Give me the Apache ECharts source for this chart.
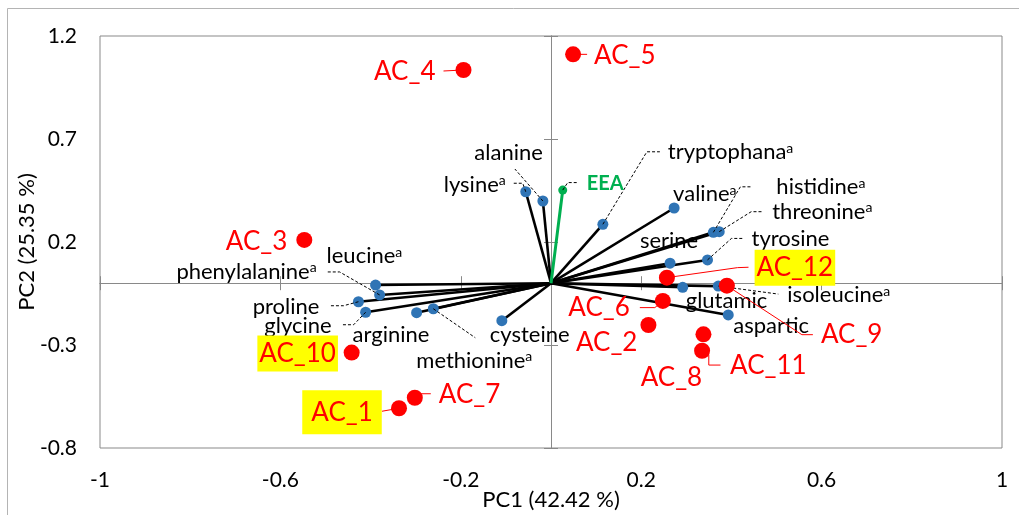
<!DOCTYPE html>
<html>
<head>
<meta charset="utf-8">
<script src="https://cdn.jsdelivr.net/npm/echarts@6/dist/echarts.min.js"></script>
<style>
  html, body { margin: 0; padding: 0; background: #ffffff; }
  #chart { width: 1019px; height: 515px; }
</style>
</head>
<body>
<div id="chart"></div>
<script>
// ---- Data -----------------------------------------------------------------
// Amino acid loadings on PC1 / PC2 ("a" = essential amino acid)
const aminoAcids = ['alanine', 'lysine', 'tryptophana', 'valine', 'histidine', 'threonine',
  'serine', 'tyrosine', 'glutamic', 'isoleucine', 'aspartic', 'cysteine',
  'methionine', 'arginine', 'glycine', 'proline', 'phenylalanine', 'leucine'];
const essential = [false, true, true, true, true, true,
  false, false, false, true, false, false,
  true, false, false, false, true, true];
const loadingPC1 = [-0.018, -0.056, 0.115, 0.273, 0.360, 0.373,
  0.264, 0.347, 0.292, 0.371, 0.393, -0.109,
  -0.261, -0.298, -0.411, -0.427, -0.380, -0.389];
const loadingPC2 = [0.399, 0.444, 0.286, 0.365, 0.247, 0.250,
  0.097, 0.113, -0.020, -0.014, -0.154, -0.182,
  -0.124, -0.143, -0.141, -0.090, -0.057, -0.009];

// Essential amino acid total (EEA)
const eeaName = ['EEA'];
const eeaPC1 = [0.026];
const eeaPC2 = [0.452];

// Sample scores
const samples = ['AC_1', 'AC_2', 'AC_3', 'AC_4', 'AC_5', 'AC_6',
  'AC_7', 'AC_8', 'AC_9', 'AC_10', 'AC_11', 'AC_12'];
const scorePC1 = [-0.337, 0.216, -0.547, -0.194, 0.049, 0.248,
  -0.302, 0.338, 0.390, -0.442, 0.335, 0.257];
const scorePC2 = [-0.607, -0.203, 0.210, 1.035, 1.111, -0.086,
  -0.556, -0.248, -0.012, -0.337, -0.328, 0.027];
const highlightedSamples = ['AC_1', 'AC_10', 'AC_12'];

// Axis ranges and tick steps
const xRange = [-1, 1];
const xStep = 0.4;
const yRange = [-0.8, 1.2];
const yStep = 0.5;
const xTitle = 'PC1 (42.42 %)';
const yTitle = 'PC2 (25.35 %)';

// ---- Label placement (pixel offsets from each point) -----------------------
const aminoLabelLayout = [
  { dx: 0,   dy: -48, align: 'right', leader: [[-28, -32]] },               // alanine
  { dx: -20, dy: -7,  align: 'right', leader: [[-3, -8.5], [-13, -8.5]] },  // lysine
  { dx: 65,  dy: -72, align: 'left',  leader: [[44, -72.5], [57, -72.5]] }, // tryptophana
  { dx: -1,  dy: -14, align: 'left' },                                      // valine
  { dx: 63,  dy: -45, align: 'left',  leader: [[27, -45.5], [39, -45.5]] }, // histidine
  { dx: 53,  dy: -20, align: 'left',  leader: [[32, -20], [44, -20]] },     // threonine
  { dx: -1,  dy: -22, align: 'center' },                                    // serine
  { dx: 44,  dy: -21, align: 'left',  leader: [[24, -21.5], [36, -21.5]] }, // tyrosine
  { dx: 3,   dy: 14,  align: 'left' },                                      // glutamic
  { dx: 69,  dy: 9,   align: 'left',  leader: [[60, 8]] },                  // isoleucine
  { dx: 5,   dy: 11,  align: 'left' },                                      // aspartic
  { dx: -12, dy: 14,  align: 'left' },                                      // cysteine
  { dx: -17, dy: 52,  align: 'left',  leader: [[42, 29]] },                 // methionine
  { dx: -64, dy: 22,  align: 'left' },                                      // arginine
  { dx: -34, dy: 14,  align: 'right', leader: [[-12, 12.5], [-24, 12.5]] }, // glycine
  { dx: -39, dy: 5,   align: 'right', leader: [[-15, 4], [-29, 4]] },       // proline
  { dx: -63, dy: -23, align: 'right', leader: [[-40, -23], [-53, -23]] },   // phenylalanine
  { dx: -49, dy: -29, align: 'left' }                                       // leucine
];
const eeaLabelLayout = [
  { dx: 24, dy: -7, align: 'left', leader: [[5, -7.5], [16, -7.5]] }
];
const sampleLabelLayout = [
  { dx: -57, dy: 4,   align: 'center', leader: [[-17, 3]], padding: [9, 9, 9, 9] }, // AC_1
  { dx: -11, dy: 18,  align: 'right' },                                           // AC_2
  { dx: -17, dy: 2,   align: 'right' },                                           // AC_3
  { dx: -28, dy: 2,   align: 'right', leader: [[-20, 1]] },                       // AC_4
  { dx: 21,  dy: 1,   align: 'left',  leader: [[14, 0]] },                        // AC_5
  { dx: -33, dy: 7,   align: 'right', leader: [[-8, 6.7], [-23, 6.7]] },          // AC_6
  { dx: 24,  dy: -3,  align: 'left',  leader: [[5, -4], [16, -4]] },              // AC_7
  { dx: -32, dy: 43,  align: 'center' },                                          // AC_8
  { dx: 94,  dy: 49,  align: 'left',  leader: [[75, 49], [86, 49]] },             // AC_9
  { dx: -54, dy: 1,   align: 'center', padding: [5, 2, 5, 2] },                   // AC_10
  { dx: 28,  dy: 14.5, align: 'left', leader: [[6.7, 4], [6.7, 14.3], [18.4, 14.3]] }, // AC_11
  { dx: 128, dy: -10, align: 'center', leader: [[70.6, -10], [81.6, -10.4]], padding: [5, 2, 5, 2] } // AC_12
];

// ---- Styles ----------------------------------------------------------------
const FONT = 'Lato, "Liberation Sans", sans-serif';
const AXIS_GREY = '#898989';
const BLUE = '#2F74B5';
const RED = '#FF0000';
const GREEN = '#00B050';
const HIGHLIGHT = '#FFFF00';

const chart = echarts.init(document.getElementById('chart'), null, { renderer: 'canvas' });

const gridBox = { left: 100, right: 17, top: 36, bottom: 67, containLabel: false, outerBoundsMode: 'none' };

// Label renderer shared by loadings and scores
function makeLabelRenderer(layoutList, buildText) {
  return function (params, api) {
    const i = params.dataIndex;
    const p = api.coord([api.value(0), api.value(1)]);
    const L = layoutList[i];
    const t = buildText(i, L);
    const children = [];
    if (L.leader) {
      const pts = [p.slice()].concat(L.leader.map(o => [p[0] + o[0], p[1] + o[1]]));
      children.push({
        type: 'polyline',
        shape: { points: pts },
        style: t.leaderStyle,
        z2: 1
      });
    }
    children.push({
      type: 'text',
      x: p[0] + L.dx,
      y: p[1] + L.dy,
      style: Object.assign({ align: L.align, verticalAlign: 'middle' }, t.style),
      z2: 2
    });
    return { type: 'group', children: children };
  };
}

const aminoText = (i) => ({
  style: {
    text: '{n|' + aminoAcids[i] + '}' + (essential[i] ? '{s|a}' : ''),
    rich: {
      n: { fontSize: 22, fontFamily: FONT, fill: '#000000' },
      s: { fontSize: 14, fontFamily: FONT, fill: '#000000', verticalAlign: 'top', lineHeight: 9 }
    }
  },
  leaderStyle: { stroke: '#000000', lineWidth: 1, lineDash: [3, 2], fill: null }
});

const eeaText = (i) => ({
  style: { text: eeaName[i], fontSize: 20, fontWeight: 'bold', fontFamily: FONT, fill: GREEN },
  leaderStyle: { stroke: '#000000', lineWidth: 1, lineDash: [3, 2], fill: null }
});

const sampleText = (i, L) => {
  const hl = highlightedSamples.indexOf(samples[i]) >= 0;
  const style = { text: samples[i], fontSize: 26, fontFamily: FONT, fill: RED };
  if (hl) {
    style.backgroundColor = HIGHLIGHT;
    style.padding = L.padding || [5, 2, 5, 2];
  }
  return { style: style, leaderStyle: { stroke: RED, lineWidth: 1, fill: null } };
};

const loadingPoints = aminoAcids.map((n, i) => [loadingPC1[i], loadingPC2[i]]);
const eeaPoints = eeaName.map((n, i) => [eeaPC1[i], eeaPC2[i]]);
const scorePoints = samples.map((n, i) => [scorePC1[i], scorePC2[i]]);

function crossAxes(gridIndex, inside) {
  return {
    x: {
      gridIndex: gridIndex, type: 'value', min: xRange[0], max: xRange[1], interval: xStep,
      axisLine: { show: true, onZero: true, onZeroAxisIndex: gridIndex, lineStyle: { color: AXIS_GREY, width: 1 } },
      axisTick: { show: true, inside: inside, length: 7, lineStyle: { color: AXIS_GREY, width: 1 } },
      axisLabel: { show: false }, splitLine: { show: false }
    },
    y: {
      gridIndex: gridIndex, type: 'value', min: yRange[0], max: yRange[1], interval: yStep,
      axisLine: { show: true, onZero: true, onZeroAxisIndex: gridIndex, lineStyle: { color: AXIS_GREY, width: 1 } },
      axisTick: { show: true, inside: inside, length: 7, lineStyle: { color: AXIS_GREY, width: 1 } },
      axisLabel: { show: false }, splitLine: { show: false }
    }
  };
}
const crossOut = crossAxes(1, false);
const crossIn = crossAxes(2, true);

const option = {
  backgroundColor: '#ffffff',
  animation: false,
  graphic: [{
    type: 'rect', silent: true, z: -10,
    shape: { x: 7.5, y: 8.5, width: 1100, height: 600 },
    style: { fill: null, stroke: '#b4b4b4', lineWidth: 1 }
  }],
  grid: [
    Object.assign({ show: true, borderColor: AXIS_GREY, borderWidth: 1, backgroundColor: 'transparent' }, gridBox),
    Object.assign({}, gridBox),
    Object.assign({}, gridBox)
  ],
  xAxis: [
    {
      gridIndex: 0, type: 'value', min: xRange[0], max: xRange[1], interval: xStep,
      axisLine: { show: false, onZero: false }, axisTick: { show: false }, splitLine: { show: false },
      axisLabel: { color: '#000000', fontSize: 21, fontFamily: FONT, margin: 22 },
      name: xTitle, nameLocation: 'middle', nameGap: 41, nameMoveOverlap: false,
      nameTextStyle: { color: '#000000', fontSize: 22, fontFamily: FONT }
    },
    crossOut.x, crossIn.x
  ],
  yAxis: [
    {
      gridIndex: 0, type: 'value', min: yRange[0], max: yRange[1], interval: yStep,
      axisLine: { show: false, onZero: false }, axisTick: { show: false }, splitLine: { show: false },
      axisLabel: { color: '#000000', fontSize: 21, fontFamily: FONT, margin: 23 },
      name: yTitle, nameLocation: 'middle', nameGap: 62, nameMoveOverlap: false,
      nameTextStyle: { color: '#000000', fontSize: 22, fontFamily: FONT }
    },
    crossOut.y, crossIn.y
  ],
  series: [
    // loading vectors from the origin
    {
      type: 'custom', xAxisIndex: 0, yAxisIndex: 0, z: 2,
      data: loadingPoints,
      renderItem: function (params, api) {
        const o = api.coord([0, 0]);
        const p = api.coord([api.value(0), api.value(1)]);
        return { type: 'line', shape: { x1: o[0], y1: o[1], x2: p[0], y2: p[1] },
                 style: { stroke: '#000000', lineWidth: 2.6 } };
      }
    },
    {
      type: 'custom', xAxisIndex: 0, yAxisIndex: 0, z: 2,
      data: eeaPoints,
      renderItem: function (params, api) {
        const o = api.coord([0, 0]);
        const p = api.coord([api.value(0), api.value(1)]);
        return { type: 'line', shape: { x1: o[0], y1: o[1], x2: p[0], y2: p[1] },
                 style: { stroke: GREEN, lineWidth: 3 } };
      }
    },
    // loading points
    {
      type: 'scatter', xAxisIndex: 0, yAxisIndex: 0, z: 3,
      data: loadingPoints, symbolSize: 11,
      itemStyle: { color: BLUE, opacity: 1 }
    },
    {
      type: 'scatter', xAxisIndex: 0, yAxisIndex: 0, z: 3,
      data: eeaPoints, symbolSize: 9,
      itemStyle: { color: GREEN, opacity: 1 }
    },
    // loading labels
    {
      type: 'custom', xAxisIndex: 0, yAxisIndex: 0, z: 4,
      data: loadingPoints,
      renderItem: makeLabelRenderer(aminoLabelLayout, aminoText)
    },
    {
      type: 'custom', xAxisIndex: 0, yAxisIndex: 0, z: 4,
      data: eeaPoints,
      renderItem: makeLabelRenderer(eeaLabelLayout, eeaText)
    },
    // sample labels
    {
      type: 'custom', xAxisIndex: 0, yAxisIndex: 0, z: 5,
      data: scorePoints,
      renderItem: makeLabelRenderer(sampleLabelLayout, sampleText)
    },
    // sample scores
    {
      type: 'scatter', xAxisIndex: 0, yAxisIndex: 0, z: 6,
      data: scorePoints, symbolSize: 16,
      itemStyle: { color: RED, opacity: 1 }
    }
  ]
};

chart.setOption(option);
</script>
</body>
</html>
